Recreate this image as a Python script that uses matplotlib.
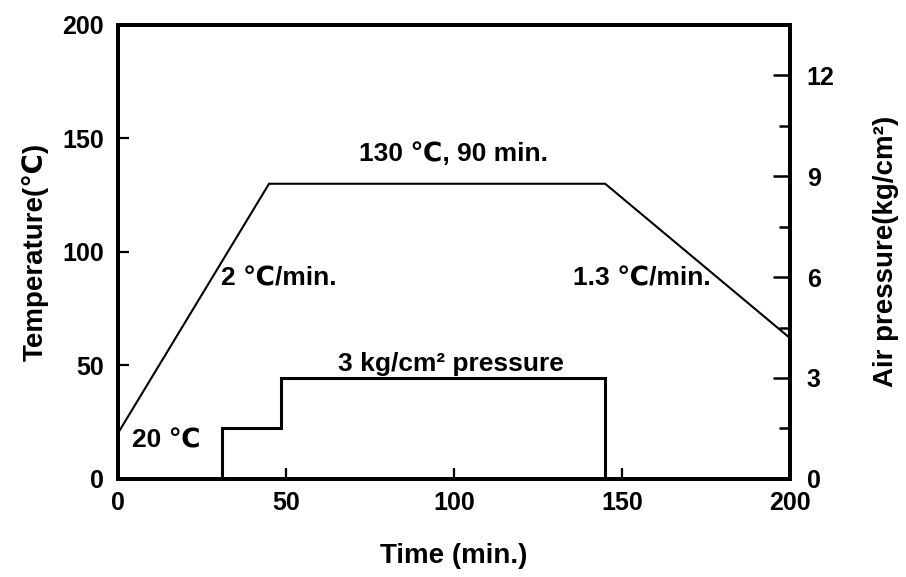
import matplotlib
matplotlib.use("Agg")
import matplotlib.pyplot as plt
from matplotlib.ticker import MultipleLocator

plt.rcParams['font.family'] = ['Liberation Sans', 'DejaVu Sans']
plt.rcParams['font.weight'] = 'bold'
plt.rcParams['axes.labelweight'] = 'bold'

# cure cycle: temperature (deg C) vs time (min)
temp_time = [0, 45, 145, 200]
temp_vals = [20, 130, 130, 62]

# air pressure (kg/cm2), step profile
pres_time = [31, 31, 48.5, 48.5, 145, 145]
pres_vals = [0, 1.5, 1.5, 3, 3, 0]

fig = plt.figure(figsize=(9.06, 5.77), dpi=100)
ax = fig.add_axes([0.130, 0.170, 0.742, 0.787])

ax.plot(temp_time, temp_vals, color='black', lw=1.5, solid_joinstyle='miter')
ax.set_xlim(0, 200)
ax.set_ylim(0, 200)
ax.set_xticks([0, 50, 100, 150, 200])
ax.set_yticks([0, 50, 100, 150, 200])
ax.tick_params(axis='both', direction='in', length=8, width=1.6, labelsize=18, pad=9)
ax.tick_params(axis='y', pad=10)
for s in ax.spines.values():
    s.set_linewidth(2.8)

ax.set_xlabel('Time (min.)', fontsize=20, labelpad=20)
ax.set_ylabel('Temperature(℃)', fontsize=20, labelpad=10)

ax2 = ax.twinx()
ax2.plot(pres_time, pres_vals, color='black', lw=2.2, solid_joinstyle='miter')
ax2.set_ylim(0, 13.5)
ax2.yaxis.set_major_locator(MultipleLocator(3))
ax2.yaxis.set_minor_locator(MultipleLocator(1.5))
ax2.tick_params(axis='y', which='major', direction='in', length=12, width=1.8, labelsize=18, pad=12)
ax2.tick_params(axis='y', which='minor', direction='in', length=8, width=1.8)
for s in ax2.spines.values():
    s.set_linewidth(2.8)
ax2.set_ylabel('Air pressure(kg/cm²)', fontsize=20, labelpad=28)

# annotations
ax.text(100, 143, '130 ℃, 90 min.', fontsize=19, ha='center', va='center')
ax.text(48, 88.5, '2 ℃/min.', fontsize=19, ha='center', va='center')
ax.text(156, 88.5, '1.3 ℃/min.', fontsize=19, ha='center', va='center')
ax.text(14.5, 17, '20 ℃', fontsize=19, ha='center', va='center')
ax.text(99, 50.5, '3 kg/cm² pressure', fontsize=19, ha='center', va='center')

fig.savefig('out.png', dpi=100)
